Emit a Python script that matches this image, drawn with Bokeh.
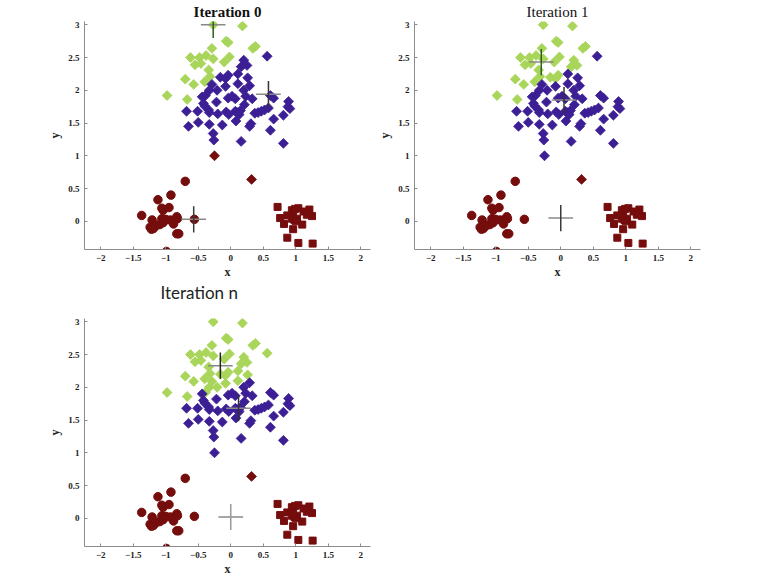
import numpy as np
from bokeh.plotting import figure
from bokeh.layouts import column, row
from bokeh.models import Range1d, FixedTicker
from bokeh.embed import file_html
from bokeh.resources import INLINE

# ---------------- data ----------------
titles = ["Iteration 0", "Iteration 1", "Iteration n"]
x_ticks = [-2, -1.5, -1, -0.5, 0, 0.5, 1, 1.5, 2]
y_ticks = [0, 0.5, 1, 1.5, 2, 2.5, 3]

# upper points (diamonds) and their cluster per iteration: 0 red, 1 purple, 2 green
upper_x = [-0.27, 0.18, -0.07, -0.04, 0.34, 0.38, -0.29, -0.62, -0.48, -0.38, -0.27, -0.10,
           -0.02, -0.55, -0.46, -0.34, -0.32, -0.70, -0.57, -0.40, -0.98, -0.67,
           0.56, 0.20, 0.25, 0.16, 0.11, -0.04, -0.08, -0.16, 0.26, 0.11, 0.29, -0.08,
           -0.29, -0.33, -0.21, -0.39, -0.44, 0.20, 0.02, -0.04, 0.07, 0.23, 0.33, 0.61,
           0.66, 0.89, 0.91, 0.88, -0.22, -0.42, -0.40, 0.21, -0.68, -0.51, -0.34, -0.33,
           -0.20, -0.07, -0.03, 0.07, 0.10, 0.13, 0.15, 0.37, 0.42, 0.47, 0.52, 0.58,
           0.81, 0.66, -0.65, -0.50, -0.33, -0.13, 0.08, 0.29, 0.31, 0.61, -0.27, -0.26,
           0.16, 0.81, -0.25, 0.32]
upper_y = [3.00, 2.98, 2.75, 2.73, 2.64, 2.67, 2.64, 2.50, 2.50, 2.53, 2.48, 2.43,
           2.51, 2.39, 2.41, 2.31, 2.21, 2.17, 2.09, 2.13, 1.92, 1.86,
           2.52, 2.46, 2.38, 2.36, 2.25, 2.23, 2.18, 2.20, 2.19, 2.10, 2.07, 2.06,
           2.09, 2.00, 2.00, 1.92, 1.90, 2.00, 1.91, 1.88, 1.87, 1.91, 1.87, 1.92,
           1.88, 1.83, 1.72, 1.75, 1.82, 1.80, 1.76, 1.78, 1.68, 1.68, 1.70, 1.66,
           1.64, 1.67, 1.63, 1.68, 1.66, 1.63, 1.69, 1.65, 1.66, 1.68, 1.70, 1.73,
           1.62, 1.56, 1.45, 1.51, 1.48, 1.47, 1.53, 1.45, 1.49, 1.39, 1.34, 1.24,
           1.22, 1.19, 1.00, 0.64]
assign_0 = [2] * 22 + [1] * 62 + [0, 0]
assign_1 = [2] * 22 + [1, 2, 2, 2, 1, 2, 2, 2] + [1] * 54 + [1, 0]
assign_n = [2] * 22 + [2, 2, 2, 2, 2, 2, 2, 2, 2, 2, 1, 2, 2, 2, 2, 2] + [1] * 46 + [1, 0]

# lower-left cluster (circles) and lower-right cluster (squares), always red
left_x = [-0.70, -0.92, -1.12, -1.06, -1.04, -0.95, -1.37, -1.21, -1.06, -1.00, -0.93, -0.83,
          -0.82, -1.24, -1.19, -1.14, -1.09, -1.04, -0.88, -0.83, -0.80, -0.99, -0.56, -1.17, -1.22]
left_y = [0.61, 0.40, 0.33, 0.20, 0.17, 0.21, 0.09, 0.02, 0.04, 0.03, 0.02, 0.07,
          0.04, -0.09, -0.11, -0.06, -0.05, -0.02, -0.04, -0.19, -0.19, -0.46, 0.03, -0.08, -0.12]
right_x = [0.72, 0.76, 0.82, 0.87, 0.94, 0.99, 1.04, 0.94, 0.98, 1.02, 0.96, 1.12, 1.17,
           1.21, 1.25, 1.10, 0.96, 0.87, 1.04, 1.26, 1.00]
right_y = [0.22, 0.05, -0.04, 0.09, 0.17, 0.19, 0.20, 0.04, 0.02, 0.04, 0.08, 0.15, 0.10,
           0.18, 0.08, -0.05, -0.12, -0.25, -0.33, -0.34, 0.00]

# centroids per iteration: [red, purple, green]
cent_x = [[-0.57, 0.58, -0.27], [0.00, 0.05, -0.30], [0.00, 0.12, -0.16]]
cent_y = [[0.03, 1.94, 3.00], [0.05, 1.85, 2.43], [0.02, 1.68, 2.33]]
assigns = [assign_0, assign_1, assign_n]

# ---------------- style ----------------
PAL = ["#760d0d", "#3c1f95", "#a8d55a"]
SERIF = "Liberation Serif"
X0, X1, Y0, Y1 = -2.25, 2.15, -0.43, 3.05


def make_panel(i, mb_left, mb_right, mb_top, mb_bottom):
    p = figure(frame_width=286, frame_height=228, x_range=Range1d(X0, X1),
               y_range=Range1d(Y0, Y1), output_backend="svg", toolbar_location=None,
               min_border_left=mb_left, min_border_right=mb_right,
               min_border_top=mb_top, min_border_bottom=mb_bottom,
               x_axis_label="x", y_axis_label="y")
    p.outline_line_color = None
    p.grid.visible = False
    p.border_fill_color = None
    for ax, ticks in ((p.xaxis, x_ticks), (p.yaxis, y_ticks)):
        ax.ticker = FixedTicker(ticks=ticks)
        ax.axis_line_color = "#8c8c8c"
        ax.major_tick_line_color = "#8c8c8c"
        ax.major_tick_in = 3
        ax.major_tick_out = 0
        ax.minor_tick_line_color = None
        ax.major_label_text_font = SERIF
        ax.major_label_text_font_style = "bold"
        ax.major_label_text_font_size = "9px"
        ax.major_label_text_color = "#222222"
        ax.major_label_standoff = 5
        ax.axis_label_text_font = SERIF
        ax.axis_label_text_font_style = "bold"
        ax.axis_label_text_font_size = "12px"
        ax.axis_label_text_color = "#222222"
        ax.axis_label_standoff = 3
    p.xaxis.axis_label_standoff = 1

    cols = [PAL[a] for a in assigns[i]]
    p.scatter(upper_x, upper_y, marker="square", angle=np.pi / 4, size=7,
              fill_color=cols, line_color=cols, line_width=0.8)
    p.scatter(left_x, left_y, marker="circle", size=8.5, fill_color=PAL[0], line_color=PAL[0])
    p.scatter(right_x, right_y, marker="square", size=7, fill_color=PAL[0], line_color=PAL[0])

    cx = np.array(cent_x[i])
    cy = np.array(cent_y[i])
    hx, hy = 0.19, 0.2
    vcol = ["#3a3a3a", "#333333", "#2f5e1f"]
    if i == 2:
        vcol = ["#9a9a9a", "#333333", "#222222"]
    p.segment(cx - hx, cy, cx + hx, cy, line_color="#8a8a8a", line_width=1.5)
    p.segment(cx, cy - hy, cx, cy + hy, line_color=vcol, line_width=1.5)

    p.title.text = titles[i]
    return p


p0 = make_panel(0, 84, 4, 21, 34)
p1 = make_panel(1, 40, 10, 21, 34)
p2 = make_panel(2, 84, 4, 36, 31)

for p, bold in ((p0, "bold"), (p1, "normal")):
    p.title.text_font = SERIF
    p.title.text_font_style = bold
    p.title.text_font_size = "15px"
    p.title.text_color = "#111111"
    p.title.align = "center"
    p.title.standoff = 0
    p.title.vertical_align = "top"

p2.title.text_font = "Lato"
p2.title.text_font_style = "normal"
p2.title.text_font_size = "17px"
p2.title.text_color = "#222222"
p2.title.align = "left"
p2.title.offset = 76
p2.title.standoff = 28
p2.title.vertical_align = "top"
p2.styles = {"margin-top": "-16px"}

layout = column(row(p0, p1), p2)
open("out.html", "w").write(file_html(layout, INLINE))
